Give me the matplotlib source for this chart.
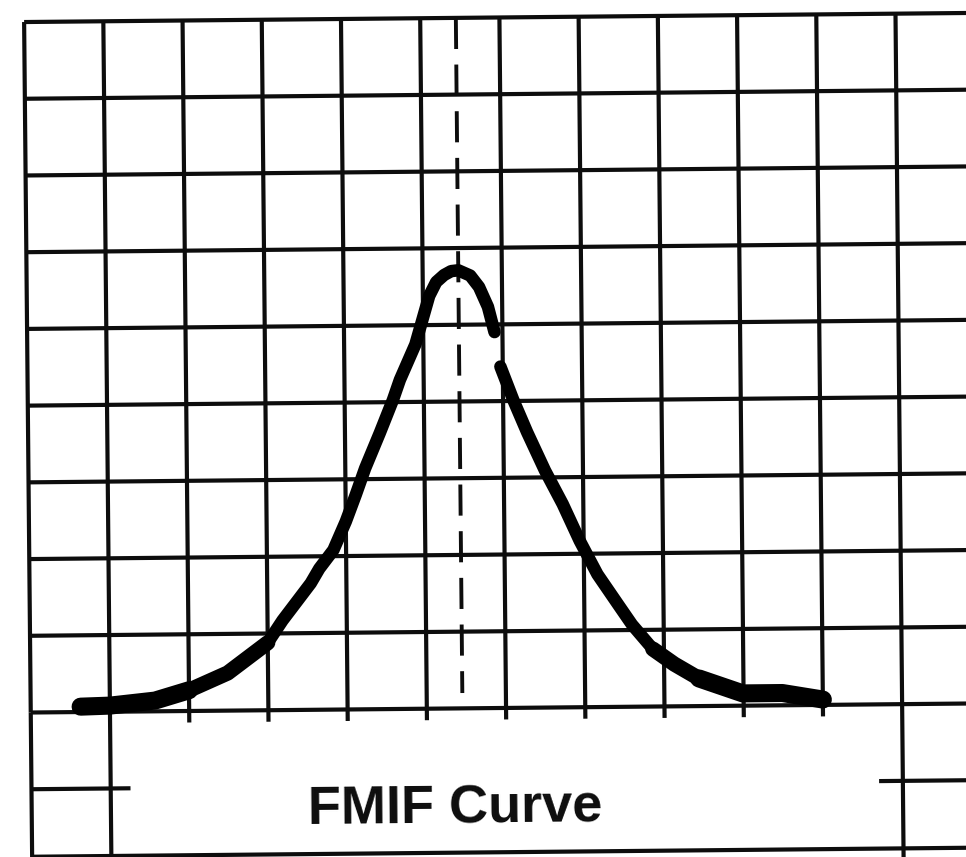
import matplotlib
matplotlib.use("Agg")
import matplotlib.pyplot as plt
from matplotlib.transforms import Affine2D

# grid in screen divisions (baseline = 0, top border = 9)
grid_cols = list(range(12))
grid_rows = list(range(10))
lower_stubs = [2, 3, 4, 5, 6, 7, 8, 9, 10]

# trace (divisions)
left_x = [0.63, 1.0, 1.57, 2.0, 2.49, 3.0, 3.19, 3.55, 3.66, 3.84, 4.0, 4.13,
          4.25, 4.44, 4.61, 4.7, 4.9, 5.0, 5.08, 5.17, 5.27, 5.36, 5.45, 5.6,
          5.71, 5.82, 5.9]
left_y = [0.07, 0.08, 0.14, 0.27, 0.49, 0.88, 1.17, 1.65, 1.84, 2.08, 2.45, 2.8,
          3.14, 3.6, 4.03, 4.29, 4.75, 5.1, 5.38, 5.56, 5.65, 5.7, 5.71, 5.64,
          5.49, 5.23, 4.9]
right_x = [5.97, 6.13, 6.3, 6.52, 6.74, 6.95, 7.17, 7.43, 7.6, 7.86, 8.13, 8.44,
           8.99, 9.49, 10.0]
right_y = [4.45, 4.01, 3.59, 3.09, 2.65, 2.17, 1.73, 1.33, 1.07, 0.75, 0.55, 0.36,
           0.16, 0.16, 0.07]

center_x = 5.45
label = "FMIF Curve"

fig = plt.figure(figsize=(9.66, 8.57), dpi=100)
ax = fig.add_axes([0, 0, 1, 1])
ax.set_xlim(-0.354, 11.84)
ax.set_ylim(-1.94, 9.23)
ax.set_autoscale_on(False)
ax.axis("off")

# the scan is slightly rotated
tr = ax.transData + Affine2D().rotate_deg_around(483, 428.5, 0.55)
ink = "#0d0d0d"
glw = 3.0

# graticule
ax.vlines(grid_cols, 0, 9, color=ink, lw=glw, transform=tr)
ax.hlines(grid_rows, 0, 13, color=ink, lw=glw, transform=tr)
ax.vlines([0, 1, 11], -2.5, 0, color=ink, lw=glw, transform=tr)
ax.vlines(lower_stubs, -0.15, 0, color=ink, lw=glw, transform=tr)
ax.hlines([-1, -1], [0, 10.7], [1.25, 13], color=ink, lw=glw, transform=tr)
ax.hlines(-1.88, 0, 13, color=ink, lw=glw, transform=tr, clip_on=False)

# centre marker
ax.plot([center_x, center_x], [9, 0.2], color=ink, lw=2.8, dashes=(8, 4),
        transform=tr)

# response trace, heavier where the beam lingers near the baseline
for xs, ys in [(left_x, left_y), (right_x, right_y)]:
    ax.plot(xs, ys, color="black", lw=9, solid_capstyle="round",
            solid_joinstyle="round", transform=tr)
ax.plot(left_x[2:6], left_y[2:6], color="black", lw=11, solid_capstyle="round",
        transform=tr)
ax.plot(left_x[:4], left_y[:4], color="black", lw=13, solid_capstyle="round",
        transform=tr)
ax.plot(right_x[-6:-2], right_y[-6:-2], color="black", lw=11,
        solid_capstyle="round", solid_joinstyle="round", transform=tr)
ax.plot(right_x[-4:], right_y[-4:], color="black", lw=13,
        solid_capstyle="round", transform=tr)

ax.text(5.34, -1.49, label, ha="center", va="baseline", fontsize=39,
        family="Liberation Sans", fontweight="bold", color=ink, rotation=0.55,
        rotation_mode="anchor", transform=tr)

fig.savefig("out.png", dpi=100, facecolor="white")
